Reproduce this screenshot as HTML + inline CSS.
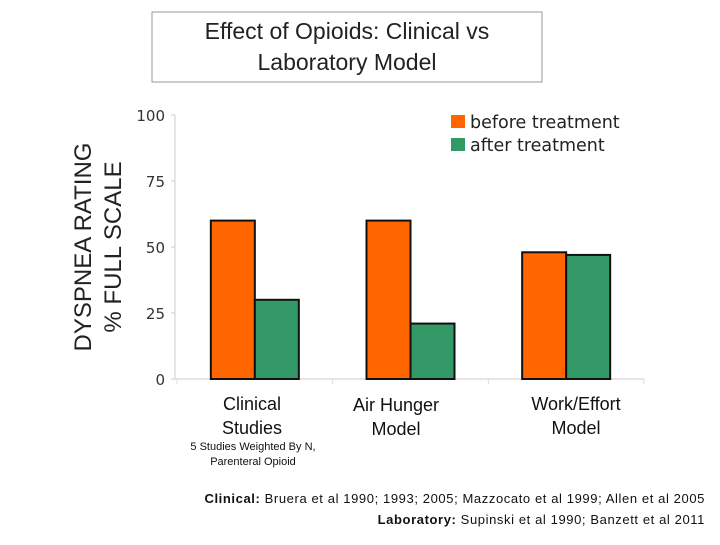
<!DOCTYPE html>
<html><head><meta charset="utf-8"><style>
body{margin:0;background:#fff;width:720px;height:540px;overflow:hidden;font-family:"Liberation Sans",sans-serif}
</style></head><body>
<svg width="720" height="540" id="svg" font-family="Liberation Sans, sans-serif">
<rect x="152" y="12" width="390" height="70" fill="#fff" stroke="#999"/>
<text x="347" y="39" text-anchor="middle" font-size="23" fill="#222">Effect of Opioids: Clinical vs</text>
<text x="347" y="70" text-anchor="middle" font-size="23" fill="#222">Laboratory Model</text>
<g transform="translate(95,247) rotate(-90)">
<text x="0" y="-4" text-anchor="middle" font-size="24" fill="#222">DYSPNEA RATING</text>
<text x="0" y="26" text-anchor="middle" font-size="24" fill="#222">% FULL SCALE</text>
</g>
<g id="axes"></g>
<g id="bars"></g>
<rect x="451" y="115" width="14" height="13" fill="#ff6600"/>
<text x="470" y="128" font-size="17.5" font-family="DejaVu Sans, sans-serif" fill="#222">before treatment</text>
<rect x="451" y="138" width="14" height="13" fill="#339966"/>
<text x="470" y="151" font-size="17.5" font-family="DejaVu Sans, sans-serif" fill="#222">after treatment</text>
<g font-size="18" fill="#111" text-anchor="middle">
<text x="252" y="410">Clinical</text>
<text x="252" y="434">Studies</text>
<text x="396" y="411">Air Hunger</text>
<text x="396" y="435">Model</text>
<text x="576" y="410">Work/Effort</text>
<text x="576" y="434">Model</text>
</g>
<g font-size="11" fill="#111" text-anchor="middle">
<text x="253" y="450">5 Studies Weighted By N,</text>
<text x="253" y="465">Parenteral Opioid</text>
</g>
<g font-size="13" fill="#111" text-anchor="end" letter-spacing="0.6">
<text x="705" y="503"><tspan font-weight="bold">Clinical:</tspan> Bruera et al 1990; 1993; 2005; Mazzocato et al 1999; Allen et al 2005</text>
<text x="705" y="524"><tspan font-weight="bold">Laboratory:</tspan> Supinski et al 1990; Banzett et al 2011</text>
</g>
</svg>
<script>
const categories=["Clinical Studies","Air Hunger Model","Work/Effort Model"];
const beforeVals=[60,60,48];
const afterVals=[30,21,47];
const yTicks=[0,25,50,75,100];
const ns="http://www.w3.org/2000/svg";
const x0=177,x1=644,yBase=379,yTop=115;
const y=v=>yBase-(yBase-yTop)*v/100;
const bw=(x1-x0)/categories.length;
const cx=i=>x0+bw*(i+0.5);
function mk(t,a,p){const e=document.createElementNS(ns,t);for(const k in a)e.setAttribute(k,a[k]);p.appendChild(e);return e;}
const ax=document.getElementById('axes'),bg=document.getElementById('bars');
let l=mk('line',{x1:175,x2:175,y1:yTop,y2:yBase,stroke:'#ccc'},ax);


l=mk('line',{x1:175,x2:x1,y1:yBase,y2:yBase,stroke:'#ccc'},ax);


yTicks.forEach(v=>{
 mk('line',{x1:171,x2:175,y1:y(v),y2:y(v),stroke:'#ccc'},ax);
 const t=mk('text',{x:165,y:y(v)+6,'text-anchor':'end','font-size':15,'font-family':'DejaVu Sans, sans-serif',fill:'#333'},ax);
 t.textContent=v;
 
 
});
for(let i=0;i<=categories.length;i++){mk('line',{x1:x0+bw*i,x2:x0+bw*i,y1:yBase,y2:yBase+5,stroke:'#ddd'},ax);}
categories.forEach((c,i)=>{
 const b=mk('rect',{x:cx(i)-44,y:y(beforeVals[i]),width:44,height:yBase-y(beforeVals[i]),fill:'#ff6600',stroke:'#111','stroke-width':2},bg);
 
 
 const a=mk('rect',{x:cx(i),y:y(afterVals[i]),width:44,height:yBase-y(afterVals[i]),fill:'#339966',stroke:'#111','stroke-width':2},bg);
 
 
});
</script>
</body></html>
